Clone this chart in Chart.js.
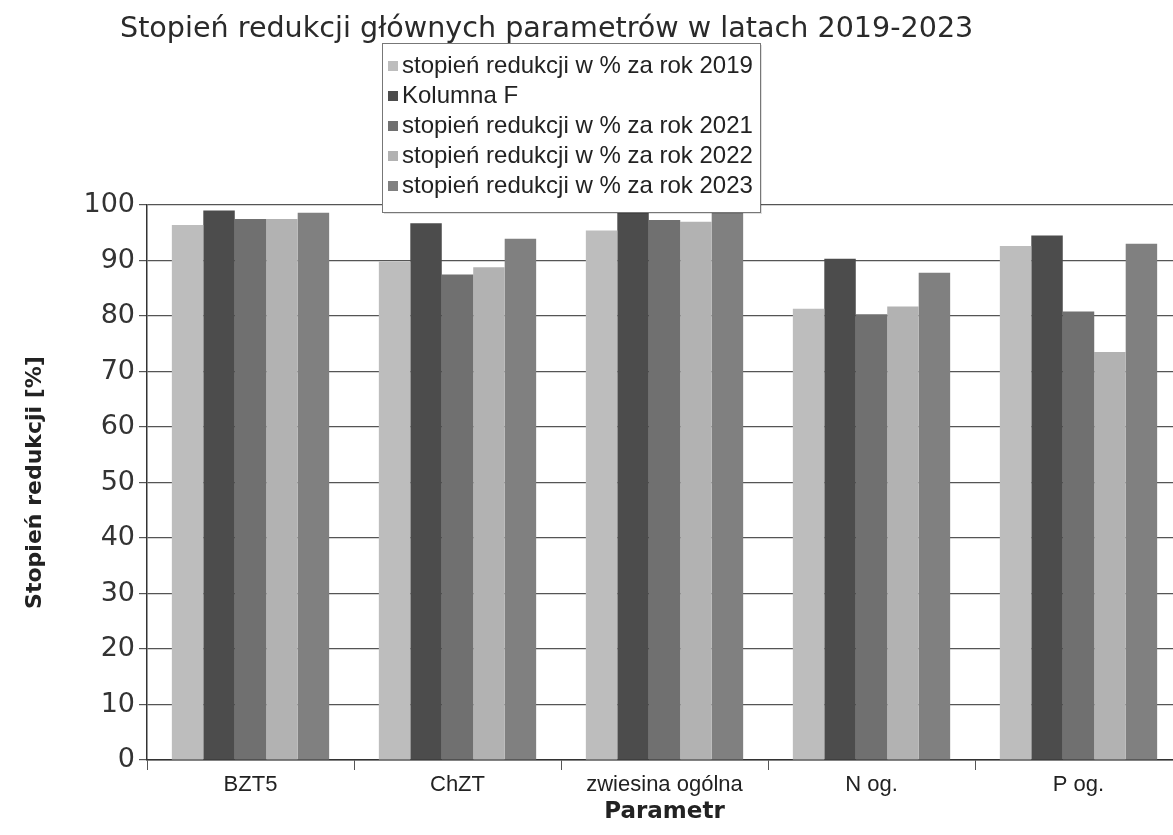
<!DOCTYPE html>
<html>
<head>
<meta charset="utf-8">
<script src="https://cdn.jsdelivr.net/npm/chart.js@4.4.1/dist/chart.umd.min.js"></script>
<style>
  html, body { margin: 0; padding: 0; background: #fff; overflow: hidden; }
  #wrap { width: 1185px; height: 835px; position: relative; }
</style>
</head>
<body>
<div id="wrap"><canvas id="c" width="1185" height="835"></canvas></div>
<script>
const chartTitle = 'Stopień redukcji głównych parametrów w latach 2019-2023';
const categories = ['BZT5', 'ChZT', 'zwiesina ogólna', 'N og.', 'P og.'];
const seriesLabels = [
  'stopień redukcji w % za rok 2019',
  'Kolumna F',
  'stopień redukcji w % za rok 2021',
  'stopień redukcji w % za rok 2022',
  'stopień redukcji w % za rok 2023'
];
const values2019 = [96.4, 89.8, 95.4, 81.3, 92.6];
const valuesKolumnaF = [99.0, 96.7, 99.6, 90.3, 94.5];
const values2021 = [97.5, 87.5, 97.3, 80.3, 80.8];
const values2022 = [97.5, 88.8, 97.0, 81.7, 73.5];
const values2023 = [98.6, 93.9, 99.0, 87.8, 93.0];
const yTicks = [0, 10, 20, 30, 40, 50, 60, 70, 80, 90, 100];
const yTitle = 'Stopień redukcji [%]';
const xTitle = 'Parametr';

const colors = ['#bdbdbd', '#4c4c4c', '#707070', '#b2b2b2', '#808080'];
const seriesValues = [values2019, valuesKolumnaF, values2021, values2022, values2023];

const titleAndLegend = {
  id: 'titleAndLegend',
  afterDraw(chart) {
    const ctx = chart.ctx;
    ctx.save();
    // main title
    ctx.font = '28.6px "DejaVu Sans", sans-serif';
    ctx.fillStyle = '#2a2a2a';
    ctx.textBaseline = 'middle';
    ctx.textAlign = 'left';
    ctx.fillText(chartTitle, 120, 30);
    // legend box
    const bx = 382, by = 43, bw = 378, bh = 169;
    ctx.fillStyle = 'rgba(0,0,0,0.12)';
    ctx.fillRect(bx + 2, by + 2, bw, bh);
    ctx.fillStyle = '#fff';
    ctx.fillRect(bx, by, bw, bh);
    ctx.strokeStyle = '#777';
    ctx.lineWidth = 1;
    ctx.strokeRect(bx + 0.5, by + 0.5, bw, bh);
    ctx.font = '24px "Liberation Sans", Arial, sans-serif';
    chart.data.datasets.forEach((ds, i) => {
      const cy = by + 23 + i * 30;
      ctx.fillStyle = ds.backgroundColor;
      ctx.fillRect(bx + 6, cy - 5, 10, 10);
      ctx.fillStyle = '#222';
      ctx.fillText(ds.label, bx + 20, cy);
    });
    ctx.restore();
  }
};

new Chart(document.getElementById('c'), {
  type: 'bar',
  data: {
    labels: categories,
    datasets: seriesLabels.map((lab, i) => ({
      label: lab,
      data: seriesValues[i],
      backgroundColor: colors[i],
      borderWidth: 0,
      categoryPercentage: 0.76,
      barPercentage: 1.0
    }))
  },
  options: {
    responsive: false,
    animation: false,
    devicePixelRatio: 1,
    layout: { padding: { top: 205, left: 0, right: 3, bottom: 0 } },
    plugins: {
      legend: { display: false },
      title: { display: false },
      tooltip: { enabled: false }
    },
    scales: {
      x: {
        afterFit: (s) => { s.height = 75; },
        grid: { display: true, offset: true, drawOnChartArea: false, tickLength: 10, color: '#555', lineWidth: 1 },
        border: { display: true, color: '#333', width: 1.5 },
        ticks: { color: '#222', padding: 2, font: { family: '"Liberation Sans", Arial, sans-serif', size: 22 } },
        title: { display: true, text: xTitle, color: '#222', padding: { top: 0, bottom: 9 },
                 font: { family: '"DejaVu Sans", sans-serif', size: 23, weight: 'bold' } }
      },
      y: {
        min: 0, max: 100,
        afterFit: (s) => { s.width = 147; },
        afterBuildTicks: (s) => { s.ticks = yTicks.map(v => ({ value: v })); },
        grid: { color: '#555', lineWidth: 1.2, tickLength: 8 },
        border: { display: true, color: '#333', width: 1.5 },
        ticks: { color: '#333', padding: 4, font: { family: '"DejaVu Sans", sans-serif', size: 27 } },
        title: { display: true, text: yTitle, color: '#222', padding: { top: 22, bottom: 0 },
                 font: { family: '"DejaVu Sans", sans-serif', size: 22, weight: 'bold' } }
      }
    }
  },
  plugins: [titleAndLegend]
});
</script>
</body>
</html>
